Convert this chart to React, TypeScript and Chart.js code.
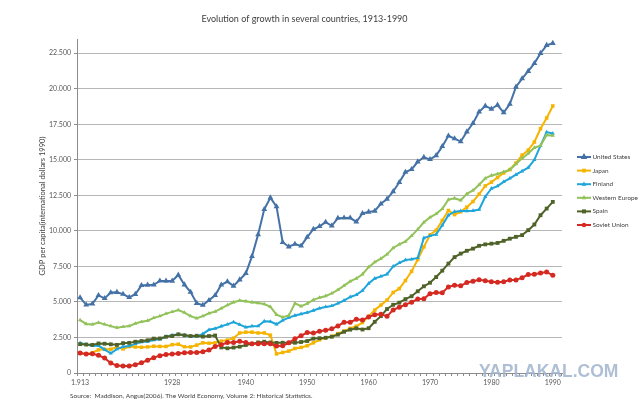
import React, { useEffect, useRef } from 'react';
import { Chart, registerables } from 'chart.js';

Chart.register(...registerables);

const years = [
  1913, 1914, 1915, 1916, 1917, 1918, 1919, 1920, 1921, 1922,
  1923, 1924, 1925, 1926, 1927, 1928, 1929, 1930, 1931, 1932,
  1933, 1934, 1935, 1936, 1937, 1938, 1939, 1940, 1941, 1942,
  1943, 1944, 1945, 1946, 1947, 1948, 1949, 1950, 1951, 1952,
  1953, 1954, 1955, 1956, 1957, 1958, 1959, 1960, 1961, 1962,
  1963, 1964, 1965, 1966, 1967, 1968, 1969, 1970, 1971, 1972,
  1973, 1974, 1975, 1976, 1977, 1978, 1979, 1980, 1981, 1982,
  1983, 1984, 1985, 1986, 1987, 1988, 1989, 1990,
];

const tickYears = [1913, 1928, 1940, 1950, 1960, 1970, 1980, 1990];
const tickTexts = ['1.913', '1928', '1940', '1950', '1960', '1970', '1980', '1990'];
const yTickValues = [0, 2500, 5000, 7500, 10000, 12500, 15000, 17500, 20000, 22500];

const unitedStates = [
  5301, 4799, 4864, 5459, 5248, 5659, 5680, 5552, 5323, 5540,
  6164, 6195, 6205, 6481, 6478, 6476, 6899, 6213, 5691, 4908,
  4777, 5114, 5467, 6204, 6430, 6126, 6561, 7010, 8206, 9741,
  11518, 12333, 11709, 9197, 8886, 9065, 8944, 9561, 10116, 10316,
  10613, 10359, 10897, 10914, 10920, 10631, 11230, 11328, 11402, 11905,
  12242, 12773, 13419, 14134, 14330, 14863, 15179, 15030, 15304, 15944,
  16689, 16491, 16284, 16975, 17567, 18373, 18789, 18577, 18856, 18325,
  18920, 20123, 20717, 21236, 21788, 22499, 23059, 23201,
];

const japan = [
  1387, 1327, 1430, 1630, 1665, 1668, 1827, 1696, 1860, 1831,
  1809, 1836, 1885, 1872, 1870, 1992, 2026, 1850, 1837, 1962,
  2122, 2098, 2120, 2244, 2315, 2449, 2816, 2874, 2873, 2818,
  2822, 2659, 1346, 1444, 1541, 1725, 1800, 1921, 2126, 2336,
  2474, 2582, 2771, 2948, 3136, 3289, 3554, 3986, 4426, 4777,
  5129, 5668, 5934, 6506, 7152, 7983, 8874, 9714, 10040, 10734,
  11434, 11145, 11344, 11669, 12064, 12585, 13163, 13428, 13754, 14078,
  14307, 14773, 15331, 15679, 16251, 17185, 17943, 18789,
];

const finland = [
  2111, 2012, 1925, 1930, 1647, 1380, 1682, 1846, 1900, 2049,
  2178, 2219, 2317, 2376, 2544, 2666, 2717, 2666, 2565, 2577,
  2753, 3040, 3124, 3290, 3424, 3580, 3408, 3220, 3295, 3300,
  3645, 3620, 3430, 3706, 3900, 4050, 4150, 4250, 4400, 4550,
  4650, 4720, 4900, 5100, 5350, 5500, 5800, 6300, 6650, 6800,
  6950, 7500, 7750, 7950, 8000, 8100, 9500, 9650, 9750, 10400,
  11100, 11350, 11400, 11400, 11420, 11500, 12400, 12980, 13150, 13450,
  13700, 13950, 14200, 14450, 15000, 16000, 16950, 16850,
];

const westernEurope = [
  3720, 3450, 3420, 3550, 3420, 3300, 3190, 3250, 3300, 3480,
  3600, 3680, 3880, 4000, 4180, 4300, 4430, 4250, 4000, 3850,
  4000, 4200, 4320, 4550, 4780, 4980, 5100, 5050, 4980, 4920,
  4850, 4650, 4100, 3920, 4050, 4900, 4700, 4880, 5150, 5300,
  5420, 5600, 5850, 6150, 6450, 6650, 6950, 7450, 7800, 8050,
  8350, 8800, 9050, 9250, 9650, 10100, 10600, 10950, 11200, 11550,
  12200, 12300, 12150, 12600, 12850, 13250, 13700, 13900, 14000, 14150,
  14300, 14700, 15100, 15450, 15850, 16000, 16750, 16700,
];

const spain = [
  2030, 2000, 1980, 2080, 2060, 2020, 1980, 2100, 2120, 2200,
  2250, 2300, 2420, 2430, 2550, 2600, 2720, 2650, 2600, 2620,
  2560, 2600, 2640, 1800, 1740, 1790, 1850, 1970, 2050, 2150,
  2200, 2150, 2120, 2130, 2130, 2130, 2180, 2250, 2420, 2450,
  2480, 2550, 2700, 2900, 3050, 3140, 3060, 3150, 3600, 4000,
  4500, 4800, 4950, 5200, 5400, 5750, 6100, 6350, 6750, 7200,
  7700, 8150, 8400, 8600, 8750, 8950, 9050, 9100, 9150, 9300,
  9450, 9580, 9700, 10050, 10450, 11100, 11570, 12040,
];

const sovietUnion = [
  1400, 1340, 1360, 1250, 1050, 700, 520, 500, 490, 580,
  720, 900, 1080, 1220, 1300, 1340, 1380, 1420, 1450, 1440,
  1490, 1620, 1860, 1990, 2150, 2150, 2230, 2140, 2050, 2050,
  2050, 2060, 1900, 1913, 2126, 2402, 2623, 2841, 2806, 2937,
  3013, 3106, 3313, 3566, 3576, 3777, 3724, 3945, 4098, 4140,
  3985, 4439, 4626, 4806, 4985, 5202, 5225, 5575, 5667, 5643,
  6059, 6176, 6135, 6363, 6462, 6559, 6488, 6426, 6393, 6425,
  6546, 6538, 6708, 6924, 6943, 7042, 7112, 6871,
];

const seriesNames = ['United States', 'Japan', 'Finland', 'Western Europe', 'Spain', 'Soviet Union'];
const seriesValues = [unitedStates, japan, finland, westernEurope, spain, sovietUnion];
const seriesColors = ['#4472a6', '#f5b400', '#1ea5da', '#92c25a', '#4f6228', '#d42a22'];
const seriesMarkers = ['triangle', 'rect', 'triangle', 'triangle', 'rect', 'circle'];
const seriesRadius = [3.4, 2.5, 2.4, 2.4, 2.7, 2.5];

const FONT = 'Lato, "Liberation Sans", sans-serif';
const TEXT = '#404040';

function fmt(v: number): string {
  return String(v).replace(/\B(?=(\d{3})+(?!\d))/g, '.');
}

function drawMarker(ctx: CanvasRenderingContext2D, style: string, x: number, y: number, r: number, color: string) {
  ctx.fillStyle = color;
  ctx.beginPath();
  if (style === 'triangle') {
    ctx.moveTo(x, y - r * 1.15);
    ctx.lineTo(x + r * 1.0, y + r * 0.6);
    ctx.lineTo(x - r * 1.0, y + r * 0.6);
    ctx.closePath();
  } else if (style === 'rect') {
    ctx.rect(x - r * 0.75, y - r * 0.75, r * 1.5, r * 1.5);
  } else {
    ctx.arc(x, y, r * 0.9, 0, Math.PI * 2);
  }
  ctx.fill();
}

const extrasPlugin = {
  id: 'extras',
  afterDraw(chart: any) {
    const ctx: CanvasRenderingContext2D = chart.ctx;
    ctx.save();
    // legend
    const lx = 577;
    const llen = 14;
    const ly0 = 157;
    const lstep = 13.6;
    chart.data.datasets.forEach((ds: any, i: number) => {
      const y = ly0 + i * lstep;
      ctx.strokeStyle = ds.borderColor;
      ctx.lineWidth = 2;
      ctx.beginPath();
      ctx.moveTo(lx, y);
      ctx.lineTo(lx + llen, y);
      ctx.stroke();
      drawMarker(ctx, ds.pointStyle, lx + llen / 2, y, ds.pointRadius, ds.borderColor);
      ctx.fillStyle = TEXT;
      ctx.font = `6.4px ${FONT}`;
      ctx.textAlign = 'left';
      ctx.textBaseline = 'middle';
      ctx.fillText(ds.label, lx + llen + 1.5, y);
    });
    // watermark
    ctx.font = `bold 17.5px "Liberation Sans", sans-serif`;
    ctx.fillStyle = 'rgba(160,180,206,0.85)';
    ctx.textAlign = 'left';
    ctx.textBaseline = 'middle';
    ctx.fillText('YAPLAKAL.COM', 479, 372);
    // source
    ctx.font = `6.5px ${FONT}`;
    ctx.fillStyle = TEXT;
    ctx.fillText('Source:  Maddison, Angus(2006). The World Economy, Volume 2: Historical Statistics.', 70, 396);
    ctx.restore();
  },
};

export default function App() {
  const ref = useRef<HTMLCanvasElement>(null);
  useEffect(() => {
    const canvas = ref.current;
    if (!canvas) return;
    const labels = [...years.map(String), ''];
    const datasets = seriesNames.map((name, i) => ({
      label: name,
      data: seriesValues[i],
      borderColor: seriesColors[i],
      backgroundColor: seriesColors[i],
      pointBackgroundColor: seriesColors[i],
      pointBorderWidth: 0,
      pointStyle: seriesMarkers[i],
      pointRadius: seriesRadius[i],
      borderWidth: 2,
      tension: 0,
      fill: false,
      order: seriesNames.length - i,
    }));
    const chart = new Chart(canvas, {
      type: 'line',
      data: { labels, datasets },
      plugins: [extrasPlugin],
      options: {
        animation: false,
        responsive: false,
        devicePixelRatio: 1,
        layout: { padding: { left: 0, right: 31, top: 0, bottom: 0 } },
        plugins: {
          legend: { display: false },
          tooltip: { enabled: false },
          title: {
            display: true,
            text: 'Evolution of growth in several countries, 1913-1990',
            color: TEXT,
            font: { family: FONT, size: 9, weight: 'normal' },
            padding: { top: 13.6, bottom: 14.6 },
          },
        },
        scales: {
          x: {
            type: 'category',
            offset: true,
            grid: {
              display: true,
              drawOnChartArea: false,
              drawTicks: true,
              tickLength: 3,
              color: '#8c8c8c',
              offset: true,
            },
            border: { color: '#8c8c8c' },
            ticks: {
              autoSkip: false,
              maxRotation: 0,
              minRotation: 0,
              padding: 3,
              color: '#595959',
              font: { family: FONT, size: 7 },
              callback: (_v: any, index: number) => {
                const k = tickYears.indexOf(years[index]);
                return k >= 0 ? tickTexts[k] : '';
              },
            },
            afterFit: (scale: any) => {
              scale.height = 29;
            },
          },
          y: {
            type: 'linear',
            position: 'left',
            min: 0,
            max: 23500,
            afterBuildTicks: (scale: any) => {
              scale.ticks = yTickValues.map((v) => ({ value: v }));
            },
            ticks: {
              autoSkip: false,
              padding: 3,
              color: '#595959',
              font: { family: FONT, size: 7 },
              callback: (v: any) => fmt(Number(v)),
            },
            grid: { color: '#b6b6b6', drawTicks: true, tickLength: 3, tickColor: '#8c8c8c' },
            border: { color: '#8c8c8c' },
            title: {
              display: true,
              text: 'GDP per capita(international dollars 1990)',
              color: TEXT,
              font: { family: FONT, size: 7.5 },
              padding: { top: 38.5, bottom: 0 },
            },
            afterFit: (scale: any) => {
              scale.width = 77;
            },
          },
          side: {
            type: 'linear',
            position: 'right',
            display: true,
            grid: { display: false },
            border: { display: false },
            ticks: { display: false },
            afterFit: (scale: any) => {
              scale.width = 47;
            },
          },
        },
      },
    } as any);
    return () => chart.destroy();
  }, []);
  return (
    <div style={{ position: 'absolute', left: 0, top: 0, width: 640, height: 402, background: '#fff' }}>
      <canvas ref={ref} width={640} height={402} style={{ width: 640, height: 402, display: 'block' }} />
    </div>
  );
}
